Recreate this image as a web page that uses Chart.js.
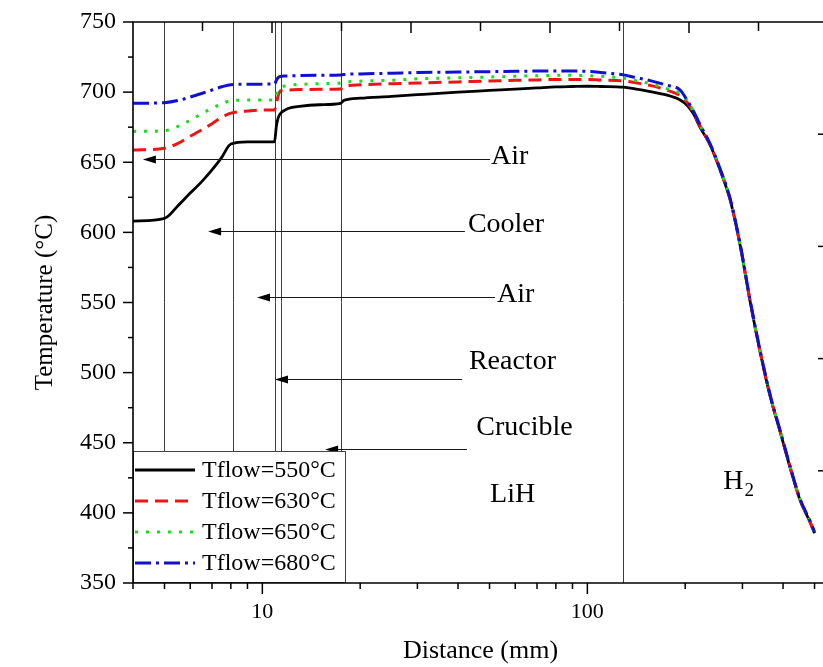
<!DOCTYPE html>
<html><head><meta charset="utf-8">
<script src="https://cdn.jsdelivr.net/npm/chart.js@4.4.1/dist/chart.umd.min.js"></script>
<style>html,body{margin:0;padding:0;overflow:hidden;background:#fff;width:823px;height:667px}</style>
</head><body>
<canvas id="c" width="840" height="667" style="display:block;width:840px;height:667px"></canvas>
<script>
// ---------------- data ----------------
const distance = [4,5,5.5,6,6.5,7,7.5,8,9,10, 10.9,11.05,11.2,11.4,11.7,12,13,15,17.4,17.8, 18.5,20,25,30,40,50,60,70,80,90, 100,110,129,140,156,175,193,203,212,222, 238.5,256,275,295,317,340,365,392,420,451, 484,500];
const t550 = [608,610,619,628,636,644.5,653.5,663,664.5,664.5, 664.5,676,682,685,687,688.3,689.8,691,692,694, 695,695.7,697,698.2,700,701.2,702.2,703,703.7,704, 704.2,704,703.5,702.3,700.4,698,694.4,690.5,684.5,675.1, 662.3,644.5,623.1,591,550.4,514.8,483.3,457.7,432.7,409.2, 393.5,385.5];
const t630 = [658.7,660,663.5,668.5,673,677.5,682,685,686.5,687.3, 687.3,692,698,701,701.3,701.5,701.8,702,702.2,704, 704.8,705.2,706,706.5,707.3,708,708.4,708.7,709,709, 709,708.6,708,706.8,704.8,701.5,697.5,692.5,685.5,676, 662.6,644.8,623.4,591.3,550.7,515.1,483.6,458,433,409.5, 393.8,385.8];
const t650 = [672,672.5,675.5,680,684.5,688.5,691.5,694,694.3,694.4, 694.4,698,702,703.5,704.3,704.8,705.5,706,706.5,707, 707.4,707.8,708.5,709.5,710.2,710.8,711.3,711.7,712,712, 711.7,711.3,710,708.3,706,702.5,699,694,686.5,676.5, 662.9,645.1,623.7,591.6,551,515.4,483.9,458.3,433.3,409.8, 394.1,386.1];
const t680 = [692,692.5,694,696.5,699,701.5,703.8,705.3,705.6,705.7, 705.8,708.5,710.5,711.2,711.5,711.6,711.8,712,712.2,712.5, 712.8,713,713.5,714,714.3,714.6,714.8,715,715,715, 714.8,714,712.3,710.5,708.2,705,701.5,694,686.5,677, 663.2,645.4,624,591.9,551.3,515.7,484.2,458.6,433.6,410.1, 394.4,386.4];
const seriesLabels = ['Tflow=550°C','Tflow=630°C','Tflow=650°C','Tflow=680°C'];
const yTickValues = [350,400,450,500,550,600,650,700,750];
const yMinorTicks = [375,425,475,525,575,625,675,725];
const xLabelTicks = [10,100];
const xMinorTicks = [4,5,6,7,8,9,20,30,40,50,60,70,80,90,200,300,400,500];
// zone boundaries (mm)
const zoneLines = [5,8.1,10.95,11.4,17.5,129];
// annotation arrows: label, temperature level, arrow tip and tail distance, text position
const arrowNotes = [
  {text:'Air',      y:652.3, tip:4.29,  tail:50.2, tx:50.5, ty:653.7},
  {text:'Cooler',   y:601.0, tip:6.81,  tail:42.0, tx:42.9, ty:605.3},
  {text:'Air',      y:553.9, tip:9.63,  tail:52.0, tx:52.7, ty:555.3},
  {text:'Reactor',  y:495.8, tip:10.94, tail:41.2, tx:43.2, ty:507.6},
  {text:'Crucible', y:445.9, tip:15.6,  tail:42.6, tx:45.5, ty:460.5}
];
const plainNotes = [
  {text:'LiH', tx:50.2, ty:412.7}
];
const h2Note = {tx:262, ty:422};

// ---------------- chart ----------------
const FONT = '"Liberation Serif", "Times New Roman", serif';
const seriesStyle = [
  {color:'#000000', dash:[], width:2.8},
  {color:'#ee1414', dash:[13,7], width:3},
  {color:'#1fd81f', dash:[3,8], width:3},
  {color:'#1010d0', dash:[16,5,3,5], width:3}
];
const seriesData = [t550,t630,t650,t680];

const datasets = seriesData.map((arr,i)=>({
  label: seriesLabels[i],
  data: distance.map((d,j)=>({x:d, y:arr[j]})),
  borderColor: seriesStyle[i].color,
  borderDash: seriesStyle[i].dash,
  borderWidth: seriesStyle[i].width,
  pointRadius: 0,
  fill: false,
  cubicInterpolationMode: 'monotone',
  order: 3 - i
}));

const decor = {
  id:'decor',
  beforeDatasetsDraw(chart){
    const {ctx, chartArea:a, scales:{x}} = chart;
    ctx.save();
    ctx.strokeStyle = '#3c3c3c'; ctx.lineWidth = 1;
    zoneLines.forEach(d=>{
      const px = Math.round(x.getPixelForValue(d)) + 0.5;
      ctx.beginPath(); ctx.moveTo(px, a.top); ctx.lineTo(px, a.bottom); ctx.stroke();
    });
    ctx.restore();
  },
  afterDatasetsDraw(chart){
    const {ctx, chartArea:a, scales:{x,y}} = chart;
    ctx.save();
    arrowNotes.forEach(n=>{
      const py = Math.round(y.getPixelForValue(n.y)) + 0.5;
      const xt = x.getPixelForValue(n.tip), xe = x.getPixelForValue(n.tail);
      ctx.strokeStyle = '#1a1a1a'; ctx.lineWidth = 1;
      ctx.beginPath(); ctx.moveTo(xt+6, py); ctx.lineTo(xe, py); ctx.stroke();
      ctx.fillStyle = '#000';
      ctx.beginPath(); ctx.moveTo(xt, py); ctx.lineTo(xt+13, py-4); ctx.lineTo(xt+13, py+4); ctx.closePath(); ctx.fill();
      ctx.font = '28px ' + FONT; ctx.textAlign = 'left'; ctx.textBaseline = 'middle';
      ctx.fillText(n.text, x.getPixelForValue(n.tx), y.getPixelForValue(n.ty));
    });
    plainNotes.forEach(n=>{
      ctx.font = '28px ' + FONT; ctx.textAlign = 'left'; ctx.textBaseline = 'middle'; ctx.fillStyle='#000';
      ctx.fillText(n.text, x.getPixelForValue(n.tx), y.getPixelForValue(n.ty));
    });
    const hx = x.getPixelForValue(h2Note.tx), hy = y.getPixelForValue(h2Note.ty);
    ctx.font = '28px ' + FONT; ctx.textBaseline = 'middle'; ctx.fillStyle='#000';
    ctx.fillText('H', hx, hy);
    const hw = ctx.measureText('H').width;
    ctx.font = '19px ' + FONT;
    ctx.fillText('2', hx + hw + 1, hy + 9);

    // legend
    const lw = 213, lh = 132, lx = a.left, ly = a.bottom - lh;
    ctx.fillStyle = '#fff'; ctx.fillRect(lx, ly, lw, lh);
    ctx.strokeStyle = '#444'; ctx.lineWidth = 1;
    ctx.strokeRect(lx+0.5, ly+0.5, lw-1, lh-1);
    chart.data.datasets.forEach((ds,i)=>{
      const yy = ly + 19 + i*31;
      ctx.strokeStyle = ds.borderColor; ctx.lineWidth = ds.borderWidth;
      ctx.setLineDash(ds.borderDash);
      ctx.beginPath(); ctx.moveTo(lx+2, yy); ctx.lineTo(lx+62, yy); ctx.stroke();
      ctx.setLineDash([]);
      ctx.fillStyle = '#000'; ctx.font = '24px ' + FONT;
      ctx.textAlign = 'left'; ctx.textBaseline = 'middle';
      ctx.fillText(ds.label, lx+69, yy+1);
    });

    // frame
    ctx.strokeStyle = '#000'; ctx.lineWidth = 1.6;
    ctx.beginPath();
    ctx.moveTo(a.left, a.top); ctx.lineTo(a.right, a.top); ctx.lineTo(a.right, a.bottom);
    ctx.lineTo(a.left, a.bottom); ctx.closePath(); ctx.stroke();
    ctx.lineWidth = 1.5;
    yTickValues.forEach(v=>{const p=y.getPixelForValue(v); ctx.beginPath(); ctx.moveTo(a.left-10,p); ctx.lineTo(a.left,p); ctx.stroke();});
    yMinorTicks.forEach(v=>{const p=y.getPixelForValue(v); ctx.beginPath(); ctx.moveTo(a.left-5,p); ctx.lineTo(a.left,p); ctx.stroke();});
    xLabelTicks.forEach(v=>{const p=x.getPixelForValue(v); ctx.beginPath(); ctx.moveTo(p,a.bottom); ctx.lineTo(p,a.bottom+11); ctx.stroke();});
    xMinorTicks.forEach(v=>{const p=x.getPixelForValue(v); ctx.beginPath(); ctx.moveTo(p,a.bottom); ctx.lineTo(p,a.bottom+6); ctx.stroke();});
    for(let k=1;k<10;k++){const p=a.left+k*(a.right-a.left)/10; ctx.beginPath(); ctx.moveTo(p,a.top); ctx.lineTo(p,a.top+(k%2?9:11)); ctx.stroke();}
    for(let k=1;k<5;k++){const p=a.top+k*(a.bottom-a.top)/5; ctx.beginPath(); ctx.moveTo(a.right,p); ctx.lineTo(a.right-10,p); ctx.stroke();}
    ctx.restore();
  }
};

new Chart(document.getElementById('c'), {
  type:'line',
  data:{ datasets },
  options:{
    responsive:false, animation:false, devicePixelRatio:1,
    layout:{ padding:{left:0, right:12, top:22, bottom:0} },
    plugins:{ legend:{display:false}, tooltip:{enabled:false} },
    scales:{
      x:{ type:'logarithmic', min:4, max:550,
          ticks:{ autoSkip:false, maxRotation:0, color:'#000', padding:16,
                  font:{family:FONT, size:22},
                  callback:(v)=> xLabelTicks.some(t=>Math.abs(t-v)<1e-6) ? String(Math.round(v)) : '' },
          grid:{display:false, drawTicks:false}, border:{display:false},
          title:{display:true, text:'Distance (mm)', color:'#000', font:{family:FONT, size:26}, padding:{top:0,bottom:0}},
          afterFit(s){ s.height = 84; s.paddingLeft = 0; s.paddingRight = 0; } },
      y:{ type:'linear', min:350, max:750,
          ticks:{ stepSize:50, color:'#000', padding:17, font:{family:FONT, size:24} },
          grid:{display:false, drawTicks:false}, border:{display:false},
          title:{display:true, text:'Temperature (°C)', color:'#000', font:{family:FONT, size:25}, padding:{top:30,bottom:0}},
          afterFit(s){ s.width = 133; s.paddingTop = 0; s.paddingBottom = 0; } }
    }
  },
  plugins:[decor]
});
</script>
</body></html>
